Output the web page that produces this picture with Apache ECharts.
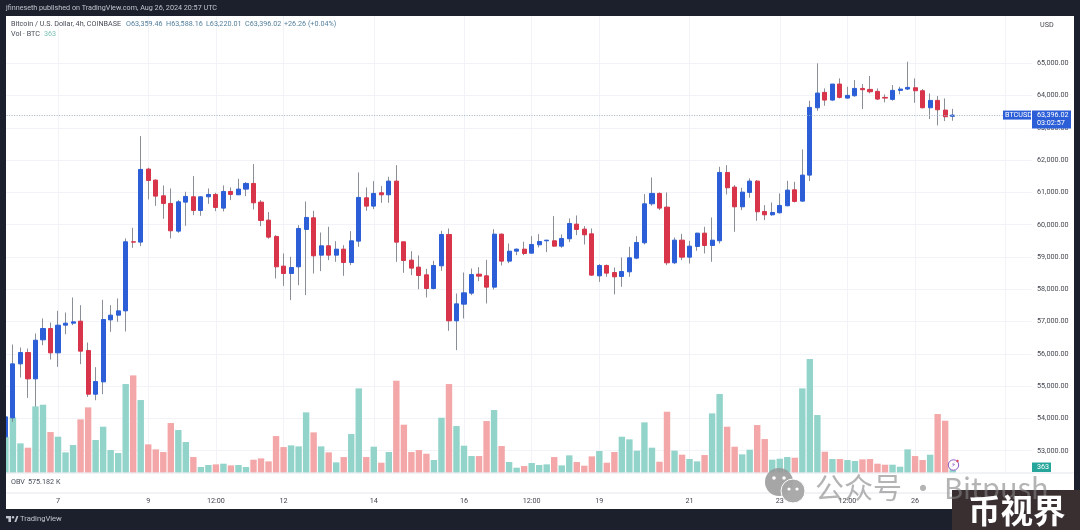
<!DOCTYPE html>
<html><head><meta charset="utf-8">
<style>html,body{margin:0;padding:0;background:#1c202c}#c{width:1080px;height:530px}</style>
<script src="https://cdn.jsdelivr.net/npm/echarts@6/dist/echarts.min.js"></script>
</head><body><div id="c"></div>
<script>
const opens=[53428,54017,55690,56041,55225,56434,56785,56031,56888,56950,57012,56103,54750,55132,57053,57198,57332,59471,59461,61723,
61382,60896,60659,59801,60700,60865,60442,60865,60938,60514,61030,60927,61103,61279,60700,60142,59636,58717,58489,58696,
59853,60214,59057,59347,59057,59243,58830,59491,60834,60576,60989,60927,61351,59471,58903,58686,58448,58024,58727,59698,
57023,57539,57880,58469,58417,58066,59708,58872,59181,59243,59119,59378,59502,59502,59336,59564,60018,59863,59718,58417,
58737,58520,58396,58541,58965,59440,60648,60969,60545,58820,59522,58995,59326,59739,59357,59502,61619,61165,60555,61000,
61351,60411,60307,60370,60586,61082,60731,61537,63623,64099,63861,64357,63923,63995,64222,64192,64130,63944,63882,64161,
64202,64243,64150,63623,63851,63551,63359];
const closes=[54048,55690,56041,55225,56423,56785,56031,56888,56950,56992,56083,54750,55142,57064,57198,57332,59471,59461,61712,61371,
60886,60659,59812,60710,60876,60442,60865,60938,60535,61030,60938,61103,61279,60679,60132,59615,58696,58489,58675,59884,
60225,59037,59347,59057,59243,58830,59502,60845,60576,60969,60927,61351,59460,58892,58655,58427,58024,58737,59698,57023,
57549,57890,58458,58407,58066,59708,58872,59181,59243,59109,59388,59481,59522,59336,59574,60039,59853,59688,58438,58737,
58500,58386,58551,58975,59450,60648,60969,60514,58820,59522,58995,59336,59739,59357,59522,61619,61144,60555,61010,61351,
60400,60307,60380,60597,61072,60721,61537,63634,64078,63861,64357,63944,64006,64222,64181,64119,63892,63923,64161,64202,
64254,64150,63623,63851,63561,63345,63396];
const lows=[53169,53893,55266,54636,54368,56268,55824,55597,56609,56888,55680,54667,54564,54750,56682,56992,56692,59285,59336,60783,
60586,60184,59574,59750,59967,60297,60276,60648,60421,60411,60762,60927,60886,60473,59956,59564,58334,58107,57663,58128,
57818,58489,58562,58903,58851,58417,58748,59316,60431,60483,60679,60679,58851,58510,58438,58004,57746,57994,58572,56712,
56114,57095,57818,58252,57560,57994,58737,58810,59057,59057,59109,59295,59151,59316,59285,59460,59677,59388,58417,58231,
58386,57839,58076,58386,58934,59388,60586,60452,58748,58779,58903,58799,59192,59109,58851,59419,60938,59781,60452,60834,
60122,60142,60276,60349,60576,60690,60710,61351,63530,63685,63840,63913,63902,63964,63582,64068,63861,63789,63840,64037,
64171,63778,63603,63272,63076,63210,63220];
const highs=[54306,56289,56196,56165,56630,57095,56971,57332,57281,57746,57508,56351,55587,57673,57508,57715,59574,59905,62745,61764,
61402,61216,61124,60762,61020,61506,60886,61124,60989,61216,61155,61423,61320,61878,60762,60390,59677,59109,59006,59987,
60721,60431,59760,59936,59491,59367,59801,61619,61155,61351,61196,61485,61847,59471,59181,59047,58634,58882,59812,59884,
57870,58520,58644,58686,58913,59863,59729,59419,59264,59471,59646,59708,59522,60266,59698,60194,60287,59956,59884,58779,
58769,58675,58985,59316,59646,60948,61464,61000,61000,59605,59718,59502,59750,59936,60225,61795,61847,61227,61144,61434,
61382,60607,60690,60969,61361,61330,62332,63840,64997,64222,64357,64532,64274,64481,64357,64605,64222,64037,64326,64274,
65049,64532,64202,64068,63985,63913,63588];
const volumes=[2304,3541,1877,1600,4245,4352,2602,2304,1301,1770,3413,4181,2090,2944,1450,1258,5674,6228,4650,1813,
1493,1322,3178,2730,1962,1002,363,491,533,576,469,491,363,832,917,725,2346,1642,1749,1685,
3861,2581,1685,1301,661,1002,2474,5396,1002,1664,640,1322,5887,3072,1322,1450,1216,811,3519,5674,
2986,1728,1066,1066,3306,4010,1706,683,320,427,619,491,533,1002,469,1109,683,448,1045,1386,
640,1322,2304,2133,1408,3221,1600,704,3903,1408,1152,875,725,1130,3797,5034,2944,1664,1173,1472,
3050,2154,832,896,1002,960,5396,7274,3690,1344,875,875,811,747,853,875,576,512,512,384,
1493,1067,811,1152,3754,3328,363];
const tickIndex=[7,19,28,37,49,61,70,79,91,103,112,121,133];
const tickText=['7','9','12:00','12','14','16','12:00','19','21','23','12:00','26','28'];
const priceTicks={min:53000,max:65000,step:1000};
const lastPrice=63396.02, lastVolume=363;
const BLUE='#2c5fd7',RED='#d8344a',WICK='#7d838c',TEAL='#92d3ca',PINK='#f4a7a8',GRID='#f1f3f8',DARK='#1c202c';
const slotCount=137;
const categories=Array.from({length:slotCount},(_,i)=>{const k=tickIndex.indexOf(i);return k>=0?tickText[k]:'';});
const isTick=i=>tickIndex.indexOf(i)>=0;
const wickData=opens.map((o,i)=>[o,closes[i],lows[i],highs[i]]);
const bodyData=opens.map((o,i)=>[o,closes[i],Math.min(o,closes[i]),Math.max(o,closes[i])]);
const volData=volumes.map((v,i)=>({value:v,itemStyle:{color:closes[i]>=opens[i]?TEAL:PINK}}));
const L=1.65,W=137*7.518;
const chart=echarts.init(document.getElementById('c'),null,{renderer:'canvas'});
const FONT='Roboto, "Liberation Sans", sans-serif';
chart.setOption({
 animation:false,backgroundColor:'#ffffff',
 grid:[{left:L,width:W,top:63.3,height:387.4,outerBoundsMode:'none',containLabel:false},
       {left:L,width:W,top:16,height:456.7,outerBoundsMode:'none',containLabel:false}],
 xAxis:[
  {type:'category',gridIndex:0,data:categories,show:false},
  {type:'category',gridIndex:1,data:categories,axisLine:{show:false},axisTick:{show:false},
   axisLabel:{interval:(i)=>isTick(i),margin:25,fontSize:7.2,color:'#43464f',fontFamily:FONT,hideOverlap:false},
   splitLine:{show:true,interval:(i)=>isTick(i),alignWithLabel:true,lineStyle:{color:GRID,width:1}}}
 ],
 yAxis:[
  {type:'value',gridIndex:0,position:'right',min:priceTicks.min,max:priceTicks.max,interval:priceTicks.step,
   axisLine:{show:false},axisTick:{show:false},splitLine:{lineStyle:{color:GRID,width:1}},
   axisLabel:{margin:5.3,fontSize:7.2,color:'#43464f',fontFamily:FONT,showMinLabel:true,showMaxLabel:true,
     formatter:v=>v.toLocaleString('en-US',{minimumFractionDigits:2,maximumFractionDigits:2})}},
  {type:'value',gridIndex:1,show:false,min:0,max:29230,splitLine:{show:false}}
 ],
 series:[
  {type:'bar',name:'Vol',xAxisIndex:1,yAxisIndex:1,data:volData,barWidth:6.4,z:1},
  {type:'candlestick',name:'Wick',xAxisIndex:0,yAxisIndex:0,data:wickData,barWidth:1,clip:false,z:3,
   itemStyle:{color:WICK,color0:WICK,borderColor:WICK,borderColor0:WICK,borderWidth:1,opacity:0.9},
   markLine:{silent:true,symbol:'none',label:{show:false},animation:false,
     lineStyle:{color:'#9db4c4',type:[1,1.5],width:1},data:[{yAxis:lastPrice}]}},
  {type:'candlestick',name:'BTCUSD',xAxisIndex:0,yAxisIndex:0,data:bodyData,barWidth:4.6,clip:false,z:4,
   itemStyle:{color:BLUE,color0:RED,borderColor:BLUE,borderColor0:RED,borderWidth:1}}
 ]
});
const py=chart.convertToPixel({yAxisIndex:0},lastPrice);
const vy=chart.convertToPixel({yAxisIndex:1},lastVolume);
const t=(x,y,text,fill,size,extra)=>({type:'text',z:50,style:Object.assign({x,y,text,fill,fontSize:size||7.2,fontFamily:FONT,verticalAlign:'middle'},extra||{})});
const r=(x,y,w,h,fill)=>({type:'rect',z:40,shape:{x,y,width:w,height:h},style:{fill}});
const eye=(cx,cy,rad,fill)=>({type:'circle',z:44,shape:{cx,cy,r:rad},style:{fill}});
chart.setOption({graphic:[
 r(0,0,1080,16,DARK),r(0,509,1080,21,DARK),r(0,0,6,530,DARK),r(1074,0,6,530,DARK),
 {type:'line',z:39,shape:{x1:6,y1:473,x2:1074,y2:473},style:{stroke:'#e4e6ec',lineWidth:1}},
 {type:'line',z:39,shape:{x1:6,y1:493,x2:1074,y2:493},style:{stroke:'#e4e6ec',lineWidth:1}},
 t(6,8.5,'jfinneseth published on TradingView.com, Aug 26, 2024 20:57 UTC','#c2c5ce',7.2),
 t(11,24.5,'Bitcoin / U.S. Dollar, 4h, COINBASE','#484d58',7.2),
 t(126,24.5,'O63,359.46','#55809f',7.2),t(166,24.5,'H63,588.16','#55809f',7.2),
 t(206,24.5,'L63,220.01','#55809f',7.2),t(245,24.5,'C63,396.02','#55809f',7.2),t(284,24.5,'+26.26 (+0.04%)','#55809f',7.2),
 t(11,34.5,'Vol · BTC','#484d58',7.2),t(44,34.5,'363','#7fc1b6',7.2),
 t(11,482,'OBV','#484d58',7.2),t(28,482,'575.182 K','#484d58',7.2),
 t(1040,25,'USD','#43464f',7.2),
 r(1003,py-4.5,28,9,BLUE),
 r(1032,py-4.5,39,18,BLUE),
 t(1005,py,'BTCUSD','#fff',7.2),
 t(1037,py,'63,396.02','#fff',7.2),t(1037,py+8,'03:02:57','#fff',7.2),
 r(1032,vy-4.5,19,9.5,'#26a69a'),t(1037,vy,'363','#fff',7.2),
 r(6,516,5,2.4,'#c2c5ce'),r(8.4,516,2.6,6,'#c2c5ce'),
 {type:'circle',z:41,shape:{cx:13,cy:517.2,r:1.2},style:{fill:'#c2c5ce'}},
 {type:'polygon',z:41,shape:{points:[[14.4,522],[16.6,516],[18.4,516],[16.2,522]]},style:{fill:'#c2c5ce'}},
 t(20,519.5,'TradingView','#c2c5ce',7.6),
 {type:'circle',z:41,shape:{cx:953.5,cy:465,r:5.2},style:{fill:'#fff',stroke:'#8e5cc4',lineWidth:1}},
 t(951,465,'⚡','#8e5cc4',7,{fontFamily:'DejaVu Sans'}),
 {type:'circle',z:41,shape:{cx:957.5,cy:461,r:1.2},style:{fill:'#e2465c'}},
 {type:'circle',z:42,shape:{cx:779,cy:482,r:14},style:{fill:'rgba(150,150,150,0.85)'}},
 eye(774,478,1.8,'#fff'),eye(784,478,1.8,'#fff'),
 {type:'circle',z:43,shape:{cx:793,cy:491,r:12},style:{fill:'rgba(165,165,165,0.95)',stroke:'#fff',lineWidth:1}},
 eye(789,489,1.6,'#fff'),eye(797,489,1.6,'#fff'),
 t(815,488,'公众号 · Bitpush','rgba(130,130,130,0.6)',29,{fontFamily:'"Noto Sans CJK SC", sans-serif'}),
 r(952,490,128,40,'#3a2f30'),
 t(968,511,'币视界','#ffffff',32.5,{fontFamily:'"Noto Sans CJK SC", sans-serif',fontWeight:'bold'})
]});
</script></body></html>
